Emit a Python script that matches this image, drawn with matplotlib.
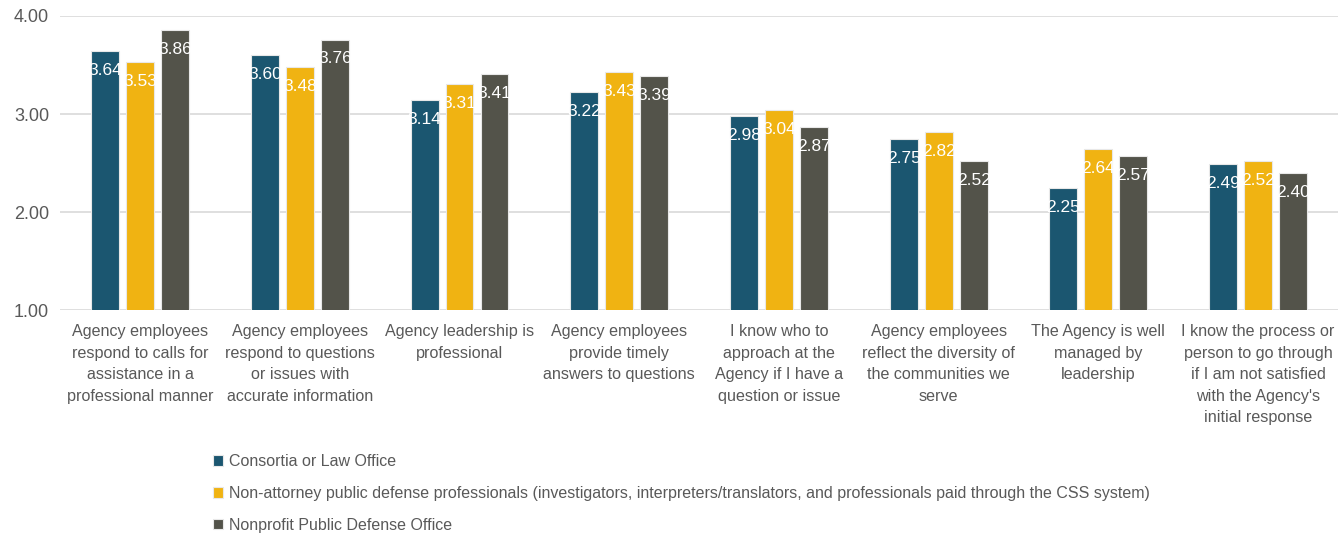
import numpy as np
import matplotlib
matplotlib.use('Agg')
import matplotlib.pyplot as plt

categories = [
    "Agency employees\nrespond to calls for\nassistance in a\nprofessional manner",
    "Agency employees\nrespond to questions\nor issues with\naccurate information",
    "Agency leadership is\nprofessional",
    "Agency employees\nprovide timely\nanswers to questions",
    "I know who to\napproach at the\nAgency if I have a\nquestion or issue",
    "Agency employees\nreflect the diversity of\nthe communities we\nserve",
    "The Agency is well\nmanaged by\nleadership",
    "I know the process or\nperson to go through\nif I am not satisfied\nwith the Agency's\ninitial response",
]
series_names = [
    "Consortia or Law Office",
    "Non-attorney public defense professionals (investigators, interpreters/translators, and professionals paid through the CSS system)",
    "Nonprofit Public Defense Office",
]
consortia = [3.64, 3.60, 3.14, 3.22, 2.98, 2.75, 2.25, 2.49]
non_attorney = [3.53, 3.48, 3.31, 3.43, 3.04, 2.82, 2.64, 2.52]
nonprofit = [3.86, 3.76, 3.41, 3.39, 2.87, 2.52, 2.57, 2.40]
colors = ['#1B5670', '#F0B312', '#53534A']
yticks = [1.0, 2.0, 3.0, 4.0]

plt.rcParams['font.family'] = ['Liberation Sans', 'DejaVu Sans']
text_color = '#595959'

fig = plt.figure(figsize=(13.38, 5.33), dpi=100)
ax = fig.add_axes([0.045, 0.418, 0.955, 0.552])

x = np.arange(len(categories))
step = 0.219
width = 0.175
for i, (vals, name, col) in enumerate(zip([consortia, non_attorney, nonprofit], series_names, colors)):
    pos = x + (i - 1) * step
    bars = ax.bar(pos, vals, width, color=col, edgecolor='#E8E8E8', linewidth=0.8, label=name, zorder=3)
    for b, v in zip(bars, vals):
        ax.annotate(f"{v:.2f}", (b.get_x() + b.get_width() / 2, v), xytext=(0, -14),
                    textcoords='offset points', ha='center', va='center',
                    color='white', fontsize=12.5, zorder=4)

ax.set_xlim(-0.5, len(categories) - 0.5)
ax.set_ylim(1, 4)
ax.set_yticks(yticks)
ax.set_yticklabels([f"{t:.2f}" for t in yticks], fontsize=13, color=text_color)
ax.set_xticks(x)
ax.set_xticklabels(categories, fontsize=11.6, color=text_color, linespacing=1.55)
ax.tick_params(axis='both', length=0)
ax.tick_params(axis='x', pad=10)
ax.tick_params(axis='y', pad=8)
ax.yaxis.grid(True, color='#D9D9D9', linewidth=1.2, zorder=0)
for s in ax.spines.values():
    s.set_visible(False)

fig.legend(loc='upper left', bbox_to_anchor=(0.153, 0.163), frameon=False,
           fontsize=11.5, labelcolor=text_color, handlelength=0.65, handleheight=0.65,
           handletextpad=0.4, labelspacing=1.05, borderpad=0)

fig.savefig('out.png', dpi=100)
